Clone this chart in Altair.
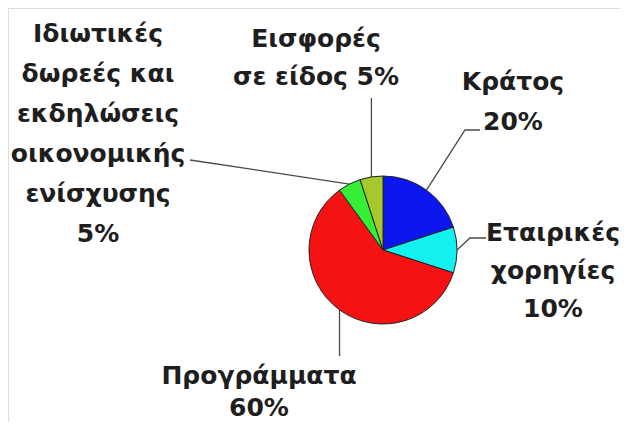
import math
import altair as alt
import pandas as pd

# ---- data ----
categories = [
    "Κράτος",
    "Εταιρικές χορηγίες",
    "Προγράμματα",
    "Ιδιωτικές δωρεές και εκδηλώσεις οικονομικής ενίσχυσης",
    "Εισφορές σε είδος",
]
values = [20, 10, 60, 5, 5]
colors = ["#0C16EE", "#12F0F0", "#F41212", "#35EE35", "#A6C82C"]
label_lines = [
    ["Κράτος", "20%"],
    ["Εταιρικές", "χορηγίες", "10%"],
    ["Προγράμματα", "60%"],
    ["Ιδιωτικές", "δωρεές και", "εκδηλώσεις", "οικονομικής", "ενίσχυσης", "5%"],
    ["Εισφορές", "σε είδος 5%"],
]

# ---- layout (page pixels; the page has an 8px margin) ----
M = 8
W, H = 612, 414
CX, CY, R = 383 - M, 250 - M, 74
# (centre x, first baseline y, line height)
label_anchor = [(513, 90, 40), (553, 241, 38), (259, 384, 32), (98, 42, 40), (316, 47, 38)]
# leader line points after the slice edge point; None for x = keep previous x
leader_pts = [
    [(465, 130), (480, 130)],
    [(470, 238), (486, 238)],
    [(None, 356)],
    [(190, 160)],
    [(None, 98)],
]

order = list(range(len(categories)))
pie_df = pd.DataFrame({"cat": categories, "value": values, "order": order})

total = sum(values)
rows = []
cum = 0
for i, (c, v) in enumerate(zip(categories, values)):
    mid = (cum + v / 2) / total * 2 * math.pi
    cum += v
    px = CX + R * math.sin(mid)
    py = CY - R * math.cos(mid)
    pts = [(px, py)]
    for (x, y) in leader_pts[i]:
        x = pts[-1][0] if x is None else x - M
        pts.append((x, y - M))
    for k, (x, y) in enumerate(pts):
        rows.append({"cat": c, "k": k, "x": x, "y": y})
lead_df = pd.DataFrame(rows)

lab_rows = []
for c, lines_, (ax, ay, lh) in zip(categories, label_lines, label_anchor):
    for j, t in enumerate(lines_):
        lab_rows.append({"cat": c, "text": t, "x": ax - M, "y": ay - M + j * lh})
lab_df = pd.DataFrame(lab_rows)

xs = alt.Scale(domain=[0, W], range=[0, W])
ys = alt.Scale(domain=[0, H], range=[0, H])

pie = alt.Chart(pie_df).mark_arc(outerRadius=R, stroke="#222222", strokeWidth=1).encode(
    theta=alt.Theta("value:Q", stack=True),
    order=alt.Order("order:Q"),
    color=alt.Color("cat:N", scale=alt.Scale(domain=categories, range=colors), legend=None),
    x=alt.value(CX),
    y=alt.value(CY),
)

lines = alt.Chart(lead_df).mark_line(color="#4a4a4a", strokeWidth=1.3).encode(
    x=alt.X("x:Q", scale=xs, axis=None),
    y=alt.Y("y:Q", scale=ys, axis=None),
    detail="cat:N",
    order="k:Q",
)

labels = alt.Chart(lab_df).mark_text(
    font="DejaVu Sans", fontWeight="bold", fontSize=25,
    align="center", baseline="alphabetic", color="#1e1e1e",
).encode(
    x=alt.X("x:Q", scale=xs, axis=None),
    y=alt.Y("y:Q", scale=ys, axis=None),
    text="text:N",
)

chart = alt.layer(lines, pie, labels).properties(
    width=W, height=H, padding=0, autosize=alt.AutoSizeParams(type="none")
).configure_view(stroke="transparent", strokeWidth=0).configure(background="white")

chart.save("out.html", embed_options={"renderer": "svg", "actions": False})
